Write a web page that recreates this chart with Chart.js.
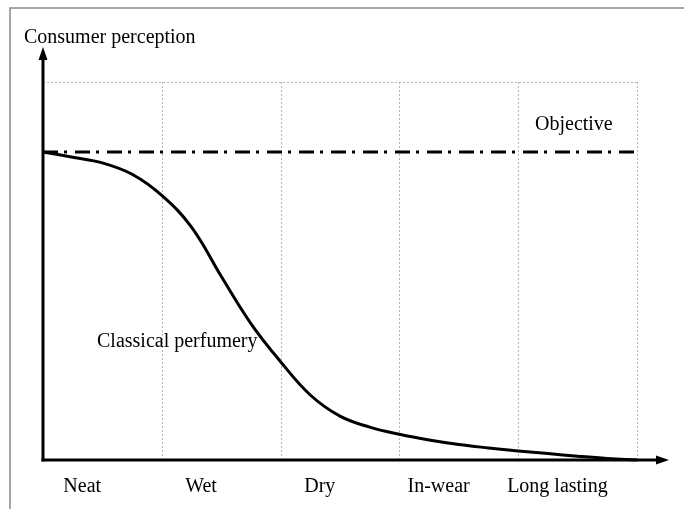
<!DOCTYPE html>
<html>
<head>
<meta charset="utf-8">
<script src="https://cdn.jsdelivr.net/npm/chart.js@4"></script>
<style>
  html, body { margin: 0; padding: 0; background: #fff; overflow: hidden; }
  #wrap { width: 684px; height: 509px; }
</style>
</head>
<body>
<div id="wrap"><canvas id="grafico" width="684" height="509"></canvas></div>
<script>
// Stages (x axis categories)
const etapas = ['Neat', 'Wet', 'Dry', 'In-wear', 'Long lasting'];

// Classical perfumery curve (x = stage position, y = perception)
const curvaX = [0, 0.25, 0.5, 0.75, 1.0, 1.25, 1.5, 1.75, 2.0, 2.25, 2.5, 2.75, 3.0, 3.25, 3.5, 3.75, 4.0, 4.25, 4.5, 4.75, 5];
const curvaY = [81.5, 80.1, 78.6, 75.6, 70.0, 61.6, 48.6, 36.1, 26.0, 17.2, 11.6, 8.7, 6.8, 5.3, 4.1, 3.2, 2.4, 1.7, 1.0, 0.4, 0];

// Objective level
const objetivoX = [0, 5];
const objetivoY = [81.5, 81.5];

const FONTE = '"Liberation Serif", "DejaVu Serif", serif';

// desenha moldura, grade pontilhada, eixos com setas e textos
const extras = {
  id: 'extras',
  beforeDatasetsDraw(chart) {
    const { ctx, scales: { x, y } } = chart;
    ctx.save();
    // moldura cinza
    ctx.strokeStyle = '#8a8a8a';
    ctx.lineWidth = 1.5;
    ctx.beginPath();
    ctx.moveTo(10, 509);
    ctx.lineTo(10, 8);
    ctx.lineTo(684, 8);
    ctx.stroke();

    // grade pontilhada
    ctx.strokeStyle = '#b5b5b5';
    ctx.lineWidth = 1;
    ctx.setLineDash([2, 2]);
    ctx.beginPath();
    ctx.moveTo(x.getPixelForValue(0), y.getPixelForValue(100) + 0.5);
    ctx.lineTo(x.getPixelForValue(5), y.getPixelForValue(100) + 0.5);
    for (let i = 1; i <= etapas.length; i++) {
      const px = Math.round(x.getPixelForValue(i)) + 0.5;
      ctx.moveTo(px, y.getPixelForValue(100));
      ctx.lineTo(px, y.getPixelForValue(0));
    }
    ctx.stroke();
    ctx.restore();
  },
  afterDatasetsDraw(chart) {
    const { ctx, scales: { x, y } } = chart;
    const x0 = x.getPixelForValue(0);
    const y0 = y.getPixelForValue(0);
    ctx.save();
    ctx.strokeStyle = '#000';
    ctx.fillStyle = '#000';
    ctx.lineWidth = 3;
    ctx.setLineDash([]);
    // eixo y
    ctx.beginPath();
    ctx.moveTo(x0, y0 + 1.5);
    ctx.lineTo(x0, 58);
    ctx.stroke();
    ctx.beginPath();
    ctx.moveTo(x0, 47);
    ctx.lineTo(x0 - 4.5, 60);
    ctx.lineTo(x0 + 4.5, 60);
    ctx.closePath();
    ctx.fill();
    // eixo x
    ctx.beginPath();
    ctx.moveTo(x0 - 1.5, y0);
    ctx.lineTo(658, y0);
    ctx.stroke();
    ctx.beginPath();
    ctx.moveTo(669, y0);
    ctx.lineTo(656, y0 - 4.5);
    ctx.lineTo(656, y0 + 4.5);
    ctx.closePath();
    ctx.fill();

    // textos
    ctx.textBaseline = 'middle';
    ctx.textAlign = 'left';
    ctx.font = '20px ' + FONTE;
    ctx.fillText('Consumer perception', 24, 38);
    ctx.fillText('Objective', 535, 125);
    ctx.fillText('Classical perfumery', 97, 342);
    ctx.textAlign = 'center';
    etapas.forEach((e, i) => {
      ctx.fillText(e, x.getPixelForValue(i + 0.33), 487);
    });
    ctx.restore();
  }
};

new Chart(document.getElementById('grafico'), {
  type: 'line',
  data: {
    datasets: [
      {
        label: 'Classical perfumery',
        data: curvaX.map((v, i) => ({ x: v, y: curvaY[i] })),
        borderColor: '#000',
        borderWidth: 3,
        pointRadius: 0,
        tension: 0.4,
        fill: false,
        clip: false
      },
      {
        label: 'Objective',
        data: objetivoX.map((v, i) => ({ x: v, y: objetivoY[i] })),
        borderColor: '#000',
        borderWidth: 3,
        borderDash: [15, 6, 3, 8],
        pointRadius: 0,
        fill: false,
        clip: false
      }
    ]
  },
  options: {
    responsive: false,
    animation: false,
    layout: { padding: { left: 43, right: 47, top: 82, bottom: 49 } },
    plugins: { legend: { display: false }, tooltip: { enabled: false } },
    scales: {
      x: { type: 'linear', min: 0, max: 5, display: false },
      y: { type: 'linear', min: 0, max: 100, display: false }
    }
  },
  plugins: [extras]
});
</script>
</body>
</html>
